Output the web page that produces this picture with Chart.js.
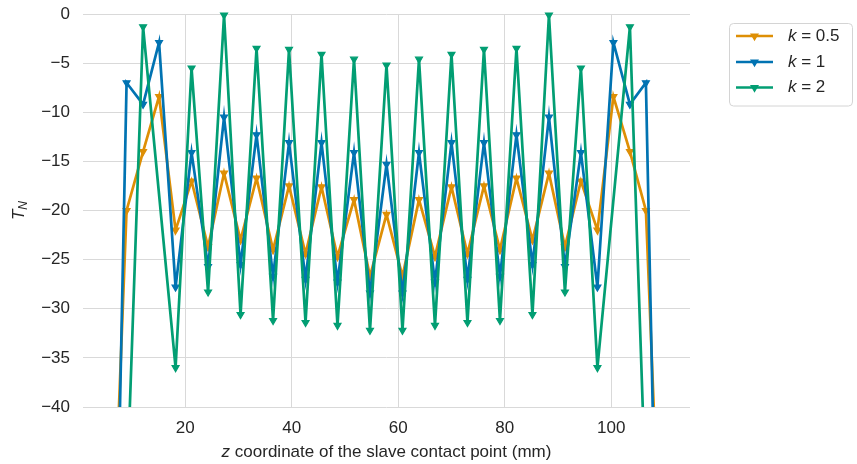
<!DOCTYPE html>
<html>
<head>
<meta charset="utf-8">
<script src="https://cdn.jsdelivr.net/npm/chart.js@4"></script>
<style>
  html, body { margin: 0; padding: 0; background: #fff; }
  canvas { display: block; }
</style>
</head>
<body>
<canvas id="chart" width="857" height="464"></canvas>
<script>
// z positions (mm) of the contact points
const zPoints = [6.0, 9.0, 12.1, 15.1, 18.2, 21.2, 24.3, 27.3, 30.4, 33.4, 36.5, 39.5,
  42.6, 45.6, 48.6, 51.7, 54.7, 57.8, 60.8, 63.9, 66.9, 70.0, 73.0, 76.1, 79.1,
  82.2, 85.2, 88.3, 91.3, 94.3, 97.4, 100.4, 103.5, 106.5, 109.6];
// k = 2 has no node at 15.1 and 100.4
const zPointsK2 = [6.0, 9.0, 12.1, 18.2, 21.2, 24.3, 27.3, 30.4, 33.4, 36.5, 39.5,
  42.6, 45.6, 48.6, 51.7, 54.7, 57.8, 60.8, 63.9, 66.9, 70.0, 73.0, 76.1, 79.1,
  82.2, 85.2, 88.3, 91.3, 94.3, 97.4, 103.5, 106.5, 109.6];

const tnK05 = [-62, -20.0, -14.0, -8.4, -22.0, -17.0, -23.7, -16.2, -23.0, -16.7, -24.0, -17.5,
  -24.4, -17.6, -24.7, -18.9, -26.7, -20.4, -26.7, -18.9, -24.7, -17.6, -24.4, -17.5,
  -24.0, -16.7, -23.0, -16.2, -23.7, -17.0, -22.0, -8.4, -14.0, -20.0, -62];
const tnK1 = [-87, -7.0, -9.2, -2.9, -27.8, -14.1, -25.7, -10.5, -25.5, -12.3, -26.7, -13.1,
  -27.0, -13.1, -27.3, -14.1, -28.4, -15.3, -28.4, -14.1, -27.3, -13.1, -27.0, -13.1,
  -26.7, -12.3, -25.5, -10.5, -25.7, -14.1, -27.8, -2.9, -9.2, -7.0, -87];
const tnK2 = [-75, -49.5, -1.3, -36.0, -5.5, -28.3, -0.1, -30.6, -3.5, -31.2, -3.6,
  -31.4, -4.1, -31.7, -4.6, -32.2, -5.2, -32.2, -4.6, -31.7, -4.1, -31.4, -3.6,
  -31.2, -3.5, -30.6, -0.1, -28.3, -5.5, -36.0, -1.3, -49.5, -75];

const seriesLabels = ['0.5', '1', '2'];
const seriesColors = ['#de8f05', '#0173b2', '#029e73'];
const xTickValues = [20, 40, 60, 80, 100];

const FONT = '"Liberation Sans", Arial, sans-serif';
const TEXT = '#262626';
const LW = 2.7;

function pts(xs, ys) {
  return xs.map((x, i) => ({ x: x, y: ys[i] }));
}

function makeSet(i, data, order) {
  return {
    label: 'k = ' + seriesLabels[i],
    data: data,
    borderColor: seriesColors[i],
    backgroundColor: seriesColors[i],
    borderWidth: LW,
    pointStyle: 'triangle',
    rotation: 180,
    pointRadius: 4,
    pointBorderWidth: 1.2,
    pointHoverRadius: 4,
    tension: 0,
    order: order,
    clip: { left: 0, top: 8, right: 0, bottom: 0 }
  };
}

const overlay = {
  id: 'overlay',
  afterDraw(chart) {
    const ctx = chart.ctx;
    const a = chart.chartArea;
    ctx.save();
    ctx.fillStyle = TEXT;
    ctx.textBaseline = 'middle';
    ctx.textAlign = 'left';

    // x axis title
    const f = '17px ' + FONT;
    const fi = 'italic 17px ' + FONT;
    const rest = ' coordinate of the slave contact point (mm)';
    ctx.font = fi;
    const wz = ctx.measureText('z').width;
    ctx.font = f;
    const wr = ctx.measureText(rest).width;
    let x0 = (a.left + a.right) / 2 - (wz + wr) / 2;
    ctx.font = fi;
    ctx.fillText('z', x0, 452);
    ctx.font = f;
    ctx.fillText(rest, x0 + wz, 452);

    // y axis title T_N
    ctx.save();
    ctx.translate(21, (a.top + a.bottom) / 2);
    ctx.rotate(-Math.PI / 2);
    ctx.font = fi;
    const wt = ctx.measureText('T').width;
    ctx.font = 'italic 12px ' + FONT;
    const wn = ctx.measureText('N').width;
    const sx = -(wt + wn) / 2;
    ctx.font = fi;
    ctx.fillText('T', sx, -2);
    ctx.font = 'italic 12px ' + FONT;
    ctx.fillText('N', sx + wt, 3);
    ctx.restore();

    // legend
    const bx = 729.5, by = 23.5, bw = 123, bh = 82.5;
    ctx.beginPath();
    ctx.roundRect(bx, by, bw, bh, 4);
    ctx.fillStyle = 'rgba(255,255,255,0.9)';
    ctx.fill();
    ctx.strokeStyle = '#d4d4d4';
    ctx.lineWidth = 1;
    ctx.stroke();
    const rows = [36, 62, 87.5];
    seriesLabels.forEach((lab, i) => {
      const y = rows[i];
      ctx.strokeStyle = seriesColors[i];
      ctx.fillStyle = seriesColors[i];
      ctx.lineWidth = LW;
      ctx.beginPath();
      ctx.moveTo(736, y);
      ctx.lineTo(773, y);
      ctx.stroke();
      ctx.lineWidth = 1.2;
      Chart.helpers.drawPoint(ctx, { pointStyle: 'triangle', rotation: 180, radius: 4, borderWidth: 1.2 }, 754.5, y);
      ctx.fillStyle = TEXT;
      ctx.font = fi;
      ctx.fillText('k', 788, y);
      const wk = ctx.measureText('k').width;
      ctx.font = f;
      ctx.fillText(' = ' + lab, 788 + wk, y);
    });
    ctx.restore();
  }
};

new Chart(document.getElementById('chart').getContext('2d'), {
  type: 'line',
  data: {
    datasets: [
      makeSet(0, pts(zPoints, tnK05), 2),
      makeSet(1, pts(zPoints, tnK1), 1),
      makeSet(2, pts(zPointsK2, tnK2), 0)
    ]
  },
  options: {
    responsive: false,
    devicePixelRatio: 1,
    animation: false,
    layout: { padding: { left: 0, right: 167, top: 14, bottom: 0 } },
    plugins: { legend: { display: false }, tooltip: { enabled: false } },
    scales: {
      x: {
        type: 'linear',
        min: 0.82,
        max: 114.78,
        afterBuildTicks: s => { s.ticks = xTickValues.map(v => ({ value: v })); },
        afterFit: s => { s.height = 57; s.paddingLeft = 0; s.paddingRight = 0; },
        grid: { color: '#d9d9d9', lineWidth: 1, drawTicks: false },
        border: { display: false },
        ticks: { color: TEXT, font: { family: FONT, size: 17 }, padding: 11, maxRotation: 0 }
      },
      y: {
        min: -40,
        max: 0,
        afterFit: s => { s.width = 83; s.paddingTop = 0; s.paddingBottom = 0; },
        grid: { color: '#d9d9d9', lineWidth: 1, drawTicks: false },
        border: { display: false },
        ticks: {
          stepSize: 5,
          color: TEXT,
          font: { family: FONT, size: 17 },
          padding: 13,
          callback: v => String(v).replace('-', '\u2212')
        }
      }
    }
  },
  plugins: [overlay]
});
</script>
</body>
</html>
